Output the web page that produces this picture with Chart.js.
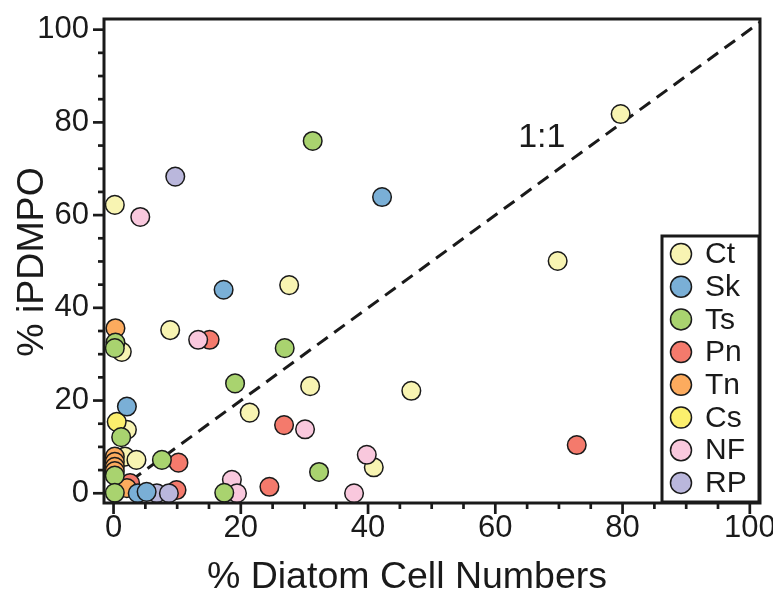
<!DOCTYPE html>
<html><head><meta charset="utf-8">
<style>html,body{margin:0;padding:0;background:#fff}#wrap{width:773px;height:593px}</style>
<script src="https://cdn.jsdelivr.net/npm/chart.js@4"></script>
</head><body><div id="wrap"><canvas id="c" width="773" height="593"></canvas></div>
<script>
const seriesNames = ['Ct','Sk','Ts','Pn','Tn','Cs','NF','RP'];
const seriesColors = ['#f8f4b2','#7aafd6','#a9d36f','#f47a6c','#fcab5e','#fcef6d','#f9c8dd','#bab7dc'];
const ctX = [79.7,0.2,69.8,27.6,8.9,1.3,30.9,46.8,21.4,40.9,2.1,1.8,3.6];
const ctY = [81.8,62.2,50.1,44.9,35.2,30.5,23.1,22.1,17.4,5.6,13.7,7.9,7.2];
const skX = [42.2,17.3,2.1,3.8,5.2];
const skY = [63.9,43.9,18.7,0,0.3];
const tsX = [31.3,26.9,19.1,32.3,7.6,17.4,0.3,0.2,1.2,0.2,0.2];
const tsY = [76.0,31.3,23.7,4.6,7.2,0.1,32.5,31.3,12.1,3.8,0.1];
const pnX = [72.8,15.1,26.8,10.2,24.5,9.9,2.6];
const pnY = [10.4,33.1,14.7,6.6,1.4,0.7,2.2];
const tnX = [0.3,0.2,0.2,0.2,0.2,2.1];
const tnY = [35.6,7.9,6.8,5.7,4.8,1.1];
const csX = [0.5];
const csY = [15.4];
const nfX = [4.2,13.3,30.1,39.8,18.6,19.4,37.8];
const nfY = [59.6,33.1,13.8,8.3,2.9,0,0];
const rpX = [9.7,6.8,8.7];
const rpY = [68.3,0,0];
const lineX = [0,102];
const lineY = [0,102];
const xTickLabels = [0,20,40,60,80,100];
const yTickLabels = [0,20,40,60,80,100];
const xTitle = '% Diatom Cell Numbers';
const yTitle = '% iPDMPO';
const ratioLabel = '1:1';

const seriesX = [ctX,skX,tsX,pnX,tnX,csX,nfX,rpX];
const seriesY = [ctY,skY,tsY,pnY,tnY,csY,nfY,rpY];
const drawOrder = [7,1,0,6,5,4,3,2];
const FONT = "'Liberation Sans', Arial, sans-serif";
const INK = '#1a1a1a';

const datasets = seriesNames.map((n,i)=>({
  label:n, type:'scatter', order:drawOrder[i], clip:false,
  data: seriesX[i].map((x,k)=>({x:x,y:seriesY[i][k]})),
  backgroundColor:seriesColors[i], borderColor:INK, borderWidth:1.5,
  pointRadius:9.3, pointHoverRadius:9.3
}));
datasets.push({
  label:'1:1', type:'scatter', showLine:true, order:20, isRef:true,
  data: lineX.map((x,k)=>({x:x,y:lineY[k]})),
  borderColor:INK, borderWidth:3, borderDash:[13,8], pointRadius:0, fill:false
});

const deco = {
  id:'deco',
  afterDatasetsDraw(chart){
    const ctx = chart.ctx, a = chart.chartArea, xs = chart.scales.x, ys = chart.scales.y;
    ctx.save();
    ctx.strokeStyle = INK; ctx.lineWidth = 3; ctx.setLineDash([]);
    ctx.strokeRect(a.left, a.top, a.right-a.left, a.bottom-a.top);
    ctx.lineWidth = 2.7;
    for(let v=0; v<=100; v+=5){
      const major = v%20===0;
      const px = xs.getPixelForValue(v);
      ctx.beginPath(); ctx.moveTo(px, a.bottom); ctx.lineTo(px, a.bottom + (major?11:6)); ctx.stroke();
      const py = ys.getPixelForValue(v);
      ctx.beginPath(); ctx.moveTo(a.left, py); ctx.lineTo(a.left - (major?11:6), py); ctx.stroke();
    }
    ctx.fillStyle = INK; ctx.font = '34px '+FONT; ctx.textAlign='center'; ctx.textBaseline='middle';
    ctx.fillText(ratioLabel, xs.getPixelForValue(67.3), ys.getPixelForValue(76.8));
    ctx.font = '37.5px '+FONT;
    ctx.fillText(xTitle, 407, 578);
    ctx.save(); ctx.translate(33, 262); ctx.rotate(-Math.PI/2); ctx.fillText(yTitle, 0, 0); ctx.restore();
    const L=662, T=236, R=759, B=502;
    ctx.fillStyle='#fff'; ctx.fillRect(L,T,R-L,B-T);
    ctx.lineWidth=3; ctx.strokeStyle=INK; ctx.strokeRect(L,T,R-L,B-T);
    ctx.font='30px '+FONT; ctx.textAlign='left'; ctx.textBaseline='middle';
    chart.data.datasets.forEach((d,i)=>{
      if(d.isRef) return;
      const cy = 254 + i*32.7;
      ctx.beginPath(); ctx.arc(681, cy, 10.5, 0, Math.PI*2);
      ctx.fillStyle=d.backgroundColor; ctx.fill();
      ctx.lineWidth=1.5; ctx.strokeStyle=INK; ctx.stroke();
      ctx.fillStyle=INK; ctx.fillText(d.label, 705, cy+1);
    });
    ctx.restore();
  }
};

new Chart(document.getElementById('c'), {
  data:{datasets:datasets},
  options:{
    responsive:false, animation:false, devicePixelRatio:1,
    layout:{padding:{top:19,right:13,left:0,bottom:0}},
    plugins:{legend:{display:false}, tooltip:{enabled:false}},
    scales:{
      x:{type:'linear', min:-1.5, max:101.6,
         grid:{display:false, drawTicks:false}, border:{display:false},
         afterBuildTicks(s){ s.ticks = xTickLabels.map(v=>({value:v})); },
         ticks:{font:{family:FONT,size:31}, color:INK, padding:7, maxRotation:0, autoSkip:false, includeBounds:false},
         afterFit(s){ s.height = 90; s.paddingLeft = 0; s.paddingRight = 0; }},
      y:{type:'linear', min:-2.1, max:102.3,
         grid:{display:false, drawTicks:false}, border:{display:false},
         afterBuildTicks(s){ s.ticks = yTickLabels.map(v=>({value:v})); },
         ticks:{font:{family:FONT,size:31}, color:INK, padding:15, autoSkip:false, includeBounds:false},
         afterFit(s){ s.width = 104; s.paddingTop = 0; s.paddingBottom = 0; }}
    }
  },
  plugins:[deco]
});
</script></body></html>
